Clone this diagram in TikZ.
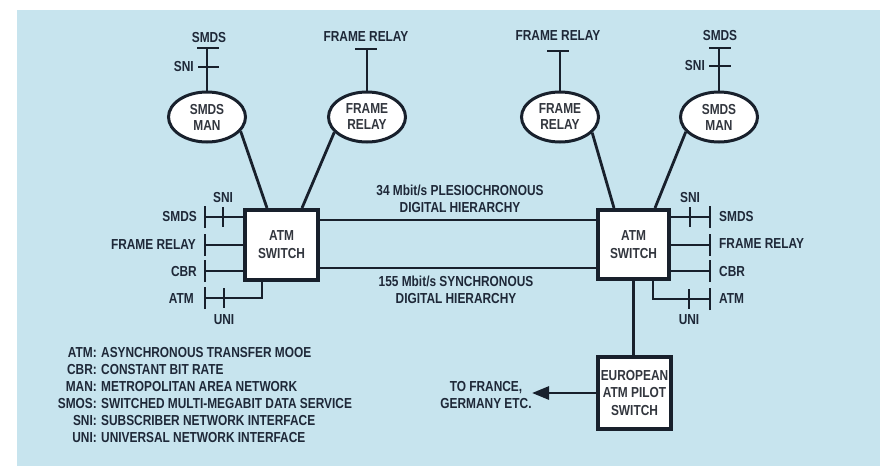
\documentclass[tikz,border=0pt]{standalone}
\usepackage{fontspec}
\setmainfont{Liberation Sans}[FakeStretch=0.82]
\usetikzlibrary{shapes.geometric,arrows.meta,calc}
\definecolor{bgblue}{RGB}{199,228,238}
\definecolor{ink}{RGB}{24,32,44}
\definecolor{txt}{RGB}{30,40,56}
\definecolor{boxtxt}{RGB}{50,54,62}
\tikzset{
  lab/.style={font=\fontsize{14.5}{17}\selectfont\bfseries, text=txt, inner sep=0pt},
  man/.style={ellipse, draw=ink, line width=3pt, fill=white, minimum width=77pt, minimum height=50pt, inner sep=0pt,
    font=\fontsize{14.5}{16}\selectfont\bfseries, text=boxtxt, align=center},
  swbox/.style={rectangle, draw=ink, line width=3.8pt, fill=white, inner sep=0pt,
    font=\fontsize{14.5}{18}\selectfont\bfseries, text=boxtxt, align=center},
  wire/.style={draw=ink, line width=2.8pt},
  bar/.style={draw=ink, line width=2.8pt},
}
\begin{document}
\begin{tikzpicture}[x=1pt,y=-1pt]
\useasboundingbox (0,0) rectangle (887,466);
\fill[bgblue] (17,10) rectangle (880,466);

% ellipses
\node[man] (smL) at (207,117) {SMDS\\MAN};
\node[man] (frL) at (367,117) {FRAME\\RELAY};
\node[man] (frR) at (560,117) {FRAME\\RELAY};
\node[man] (smR) at (719,117) {SMDS\\MAN};

% switches
\node[swbox, minimum width=73.2pt, minimum height=70.2pt] (Lsw) at (281.5,245) {ATM\\SWITCH};
\node[swbox, minimum width=71.2pt, minimum height=69.2pt] (Rsw) at (633.5,244.5) {ATM\\SWITCH};
\node[swbox, minimum width=73.2pt, minimum height=72.2pt, font=\fontsize{14.5}{17.5}\selectfont\bfseries] (Eu) at (634.5,393) {EUROPEAN\\ATM PILOT\\SWITCH};

% top stems
\coordinate (tSL) at (208,48);
\coordinate (tFL) at (366,49);
\coordinate (tFR) at (558,51);
\coordinate (tSR) at (720,48);
\draw[wire] (smL.north) -- (smL.north |- tSL);
\draw[bar] ([xshift=-11pt]tSL) -- ([xshift=11pt]tSL);
\draw[bar] (198,67) -- (219,67);
\draw[wire] (frL.north) -- (frL.north |- tFL);
\draw[bar] ([xshift=-11pt]tFL) -- ([xshift=11pt]tFL);
\draw[wire] (frR.north) -- (frR.north |- tFR);
\draw[bar] ([xshift=-11pt]tFR) -- ([xshift=11pt]tFR);
\draw[wire] (smR.north) -- (smR.north |- tSR);
\draw[bar] ([xshift=-11pt]tSR) -- ([xshift=11pt]tSR);
\draw[bar] (709,66) -- (731,66);

\node[lab] (lSMDSt) at (209,38) {SMDS};
\node[lab, anchor=east] (lSNItl) at (194,67) {SNI};
\node[lab] (lFRtl) at (366,37) {FRAME RELAY};
\node[lab] (lFRtr) at (558,36) {FRAME RELAY};
\node[lab] (lSMDStr) at (720,36) {SMDS};
\node[lab, anchor=east] (lSNItr) at (705,66) {SNI};

% ellipse to switch connectors
\coordinate (L1) at (267,208);
\coordinate (L2) at (302,208);
\coordinate (R1) at (614,208);
\coordinate (R2) at (655,208);
\draw[wire] (smL.-23) -- (L1);
\draw[wire] (frL.-155) -- (L2);
\draw[wire] (frR.-26) -- (R1);
\draw[wire] (smR.-156) -- (R2);

% trunk lines
\coordinate (tk1) at (0,220);
\coordinate (tk2) at (0,268);
\draw[wire] (Lsw.east |- tk1) -- (Rsw.west |- tk1);
\draw[wire] (Lsw.east |- tk2) -- (Rsw.west |- tk2);
\node[lab, align=center] (trk1) at (460,198.5) {34 Mbit/s PLESIOCHRONOUS\\DIGITAL HIERARCHY};
\node[lab, align=center] (trk2) at (456,290) {155 Mbit/s SYNCHRONOUS\\DIGITAL HIERARCHY};

% left ports
\coordinate (pL1) at (205,217);
\coordinate (pL2) at (205,245);
\coordinate (pL3) at (205,271);
\coordinate (pL4) at (205,298);
\coordinate (cL) at (262,298);
\draw[wire] (Lsw.west |- pL1) -- (pL1);
\draw[wire] (Lsw.west |- pL2) -- (pL2);
\draw[wire] (Lsw.west |- pL3) -- (pL3);
\draw[wire] (Lsw.south -| cL) -- (cL) -- (pL4);
\foreach \p in {pL1,pL2,pL3,pL4}{\draw[bar] ([yshift=-11pt]\p) -- ([yshift=11pt]\p);}
\draw[bar] (223,207) -- (223,227);
\draw[bar] (224,288) -- (224,308);
\node[lab, anchor=east] (lpL1) at (197,217) {SMDS};
\node[lab, anchor=east] (lpL2) at (196,245) {FRAME RELAY};
\node[lab, anchor=east] (lpL3) at (197,272) {CBR};
\node[lab, anchor=east] (lpL4) at (194,299) {ATM};
\node[lab] (lSNIl) at (223,198) {SNI};
\node[lab] (lUNIl) at (224,320) {UNI};

% right ports
\coordinate (pR1) at (710,217);
\coordinate (pR2) at (710,245);
\coordinate (pR3) at (710,271);
\coordinate (pR4) at (710,299);
\coordinate (cR) at (653,299);
\draw[wire] (Rsw.east |- pR1) -- (pR1);
\draw[wire] (Rsw.east |- pR2) -- (pR2);
\draw[wire] (Rsw.east |- pR3) -- (pR3);
\draw[wire] (Rsw.south -| cR) -- (cR) -- (pR4);
\foreach \p in {pR1,pR2,pR3,pR4}{\draw[bar] ([yshift=-11pt]\p) -- ([yshift=11pt]\p);}
\draw[bar] (690,207) -- (690,227);
\draw[bar] (689,289) -- (689,309);
\node[lab, anchor=west] (lpR1) at (719,217) {SMDS};
\node[lab, anchor=west] (lpR2) at (719,244) {FRAME RELAY};
\node[lab, anchor=west] (lpR3) at (719,272) {CBR};
\node[lab, anchor=west] (lpR4) at (719,299) {ATM};
\node[lab] (lSNIr) at (690,198) {SNI};
\node[lab] (lUNIr) at (689,320) {UNI};

% european switch
\draw[wire] (Rsw.south) -- (Rsw.south |- Eu.north);
\coordinate (arr) at (532,393);
\draw[wire, -{Triangle[length=17pt,width=13pt]}] (Eu.west) -- (arr);
\node[lab, align=center] (fr) at (486,395) {TO FRANCE,\\GERMANY ETC.};

% legend
\foreach \y/\a/\d [count=\i] in {353/ATM:/ASYNCHRONOUS TRANSFER MOOE,370/CBR:/CONSTANT BIT RATE,387/MAN:/METROPOLITAN AREA NETWORK,404/SMOS:/SWITCHED MULTI-MEGABIT DATA SERVICE,421/SNI:/SUBSCRIBER NETWORK INTERFACE,438/UNI:/UNIVERSAL NETWORK INTERFACE}{
  \node[lab, anchor=east] (ka\i) at (97,\y) {\a};
  \node[lab, anchor=west] (kd\i) at (101,\y) {\d};
}
\end{tikzpicture}
\end{document}
